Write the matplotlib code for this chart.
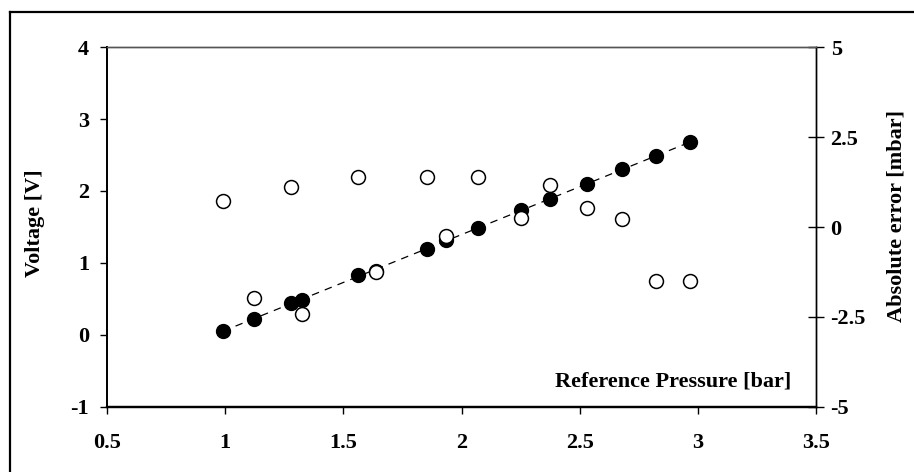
import matplotlib
matplotlib.use("Agg")
import matplotlib.pyplot as plt
from matplotlib.lines import Line2D
import numpy as np

plt.rcParams['font.family'] = ['Liberation Serif', 'DejaVu Serif']
plt.rcParams['font.weight'] = 'bold'
plt.rcParams['axes.unicode_minus'] = False

# Datos
presion = [0.99, 1.124, 1.28, 1.324, 1.561, 1.64, 1.853, 1.933,
           2.07, 2.25, 2.375, 2.53, 2.68, 2.825, 2.966]
voltaje = [0.05, 0.22, 0.45, 0.49, 0.83, 0.89, 1.20, 1.32,
           1.49, 1.73, 1.89, 2.10, 2.30, 2.48, 2.68]
error_abs = [0.71, -1.96, 1.12, -2.41, 1.40, -1.26, 1.40, -0.25,
             1.40, 0.24, 1.17, 0.52, 0.22, -1.49, -1.49]

x_ticks = [0.5, 1, 1.5, 2, 2.5, 3, 3.5]
y_ticks = [-1, 0, 1, 2, 3, 4]
y2_ticks = [-5, -2.5, 0, 2.5, 5]

W, H = 914, 472
fig = plt.figure(figsize=(W / 100, H / 100), dpi=100)
ax = fig.add_axes([107 / W, 65 / H, 709 / W, 360 / H])
ax2 = ax.twinx()

# Recta de ajuste
m, b = np.polyfit(presion, voltaje, 1)
xf = np.array([presion[0], presion[-1]])
ax.plot(xf, m * xf + b, color='black', lw=0.9, dashes=(6, 5), zorder=1)

ax.plot(presion, voltaje, 'o', color='black', ms=10, zorder=3)
ax2.plot(presion, error_abs, 'o', mfc='white', mec='black', mew=1.1, ms=10, zorder=3)

ax.set_xlim(0.5, 3.5)
ax.set_ylim(-1, 4)
ax2.set_ylim(-5, 5)
ax.set_xticks(x_ticks)
ax.set_xticklabels(['0.5', '1', '1.5', '2', '2.5', '3', '3.5'])
ax.set_yticks(y_ticks)
ax2.set_yticks(y2_ticks)
ax2.set_yticklabels(['-5', '-2.5', '0', '2.5', '5'])

ax.tick_params(axis='y', direction='out', length=5, width=1, labelsize=16, pad=8)
ax.tick_params(axis='x', direction='out', length=5, width=1, labelsize=16, pad=14)
ax2.tick_params(axis='y', direction='inout', length=11, width=1, labelsize=16, pad=5)

for a in (ax, ax2):
    a.spines['top'].set_color('#555555')
    a.spines['top'].set_linewidth(1)
    a.spines['left'].set_linewidth(1.3)
    a.spines['bottom'].set_linewidth(1.6)
    a.spines['right'].set_linewidth(1)

ax.set_ylabel('Voltage [V]', fontsize=16, fontweight='bold')
ax.yaxis.set_label_coords(-0.087, 0.51)
ax2.set_ylabel('Absolute error [mbar]', fontsize=16, fontweight='bold')
ax2.yaxis.set_label_coords(1.1, 0.53)

ax.text(0.965, 0.07, 'Reference Pressure [bar]', transform=ax.transAxes,
        ha='right', va='center', fontsize=16, fontweight='bold')

# Marco de la figura
fig.add_artist(Line2D([10 / W, 10 / W], [0, 1 - 12 / H], color='black', lw=1.6,
                      transform=fig.transFigure))
fig.add_artist(Line2D([10 / W, 1], [1 - 12 / H, 1 - 12 / H], color='black', lw=1.6,
                      transform=fig.transFigure))

fig.savefig('out.png', dpi=100)
